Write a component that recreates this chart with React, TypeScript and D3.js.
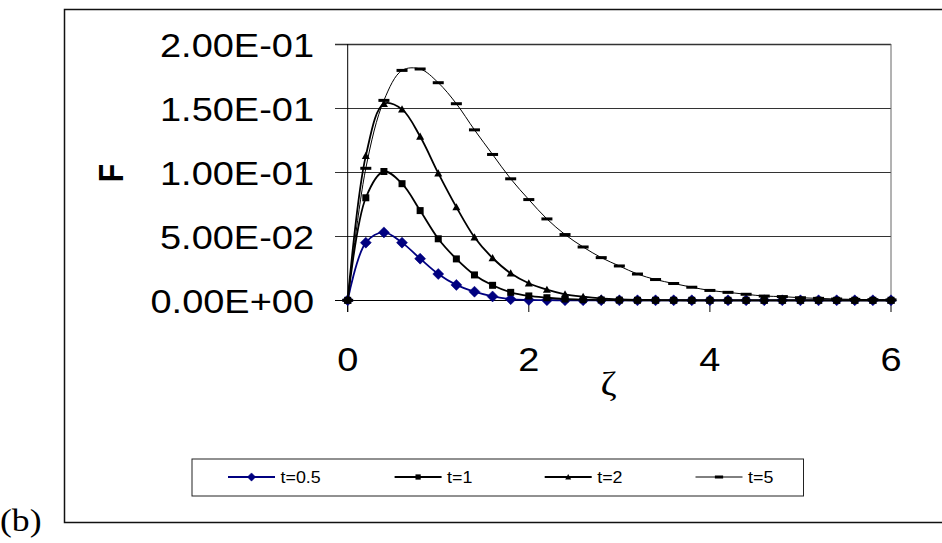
import React from 'react';
import * as d3 from 'd3';

// zeta values (x axis)
const zeta = [0, 0.2, 0.4, 0.6, 0.8, 1.0, 1.2, 1.4, 1.6, 1.8, 2.0, 2.2, 2.4, 2.6, 2.8, 3.0,
  3.2, 3.4, 3.6, 3.8, 4.0, 4.2, 4.4, 4.6, 4.8, 5.0, 5.2, 5.4, 5.6, 5.8, 6.0];

// F values, one array per time
const fT05 = [0, 0.045, 0.053, 0.045, 0.0325, 0.0205, 0.012, 0.0067, 0.003, 0.0009, 0.0003, 0.0001, 0, 0, 0, 0,
  0, 0, 0, 0, 0, 0, 0, 0, 0, 0, 0, 0, 0, 0, 0];
const fT1 = [0, 0.08, 0.1005, 0.091, 0.07, 0.048, 0.0323, 0.0198, 0.0117, 0.0062, 0.0034, 0.002, 0.001, 0.0005, 0.0002, 0.0001,
  0, 0, 0, 0, 0, 0, 0, 0, 0, 0, 0, 0, 0, 0, 0];
const fT2 = [0, 0.1127, 0.1534, 0.149, 0.1278, 0.0992, 0.0727, 0.0492, 0.033, 0.0211, 0.0133, 0.0083, 0.0047, 0.0028, 0.0015, 0.0008,
  0.0004, 0.0002, 0.0001, 0, 0, 0, 0, 0, 0, 0, 0, 0, 0, 0, 0];
const fT5 = [0, 0.103, 0.156, 0.1794, 0.1805, 0.1698, 0.1534, 0.133, 0.1138, 0.0948, 0.0786, 0.0635, 0.0513, 0.0416, 0.0333, 0.0268,
  0.0205, 0.0162, 0.0131, 0.0102, 0.0077, 0.0062, 0.0047, 0.0033, 0.0029, 0.002, 0.0015, 0.001, 0.0007, 0.0005, 0.0003];

const seriesNames = ['t=0.5', 't=1', 't=2', 't=5'];
const yTicks = [0, 0.05, 0.1, 0.15, 0.2];
const yTickLabels = ['0.00E+00', '5.00E-02', '1.00E-01', '1.50E-01', '2.00E-01'];
const xTicks = [0, 2, 4, 6];

const W = 942;
const H = 543;
const SX = 1.15; // text in the picture is a bit wide
const font = '"Liberation Sans", Arial, sans-serif';

type Marker = 'diamond' | 'square' | 'triangle' | 'dash';

const series = [
  { name: seriesNames[0], values: fT05, color: '#000080', marker: 'diamond' as Marker, width: 1.8 },
  { name: seriesNames[1], values: fT1, color: '#000', marker: 'square' as Marker, width: 1.8 },
  { name: seriesNames[2], values: fT2, color: '#000', marker: 'triangle' as Marker, width: 1.8 },
  { name: seriesNames[3], values: fT5, color: '#000', marker: 'dash' as Marker, width: 1 },
];

const MarkerShape = ({ type, x, y, color, k = 1 }: { type: Marker; x: number; y: number; color: string; k?: number }) => {
  if (type === 'diamond') {
    const r = 5.5 * k;
    return <path d={`M${x},${y - r}L${x + r},${y}L${x},${y + r}L${x - r},${y}Z`} fill={color} stroke={color} strokeWidth={0.5} />;
  }
  if (type === 'square') {
    const s = 3.5 * k;
    return <rect x={x - s} y={y - s} width={2 * s} height={2 * s} fill={color} />;
  }
  if (type === 'triangle') {
    const s = 4 * k;
    return <path d={`M${x},${y - s}L${x + s},${y + s * 0.8}L${x - s},${y + s * 0.8}Z`} fill={color} />;
  }
  return <rect x={x - 5.5 * k} y={y - 1.5} width={11 * k} height={3} fill={color} />;
};

const App = () => {
  const x = d3.scaleLinear().domain([0, 6]).range([347.7, 891]);
  const y = d3.scaleLinear().domain([0, 0.2]).range([300.3, 44]);

  const line = d3
    .line<number>()
    .x((d, i) => x(zeta[i]))
    .y((d) => y(d))
    .curve(d3.curveCatmullRom.alpha(0.5));

  const legendX = [228, 394.6, 544.7, 695.5];
  const legendY = 477;

  return (
    <svg width={W} height={H} style={{ position: 'absolute', left: 0, top: 0, background: '#fff' }}>
      {/* outer frame */}
      <path d={`M${W + 5},9.5H64.5V522.5H${W + 5}`} fill='none' stroke='#111' strokeWidth={1.5} />

      {/* gridlines and y ticks */}
      {yTicks.map((t, i) => (
        <line key={'g' + i} x1={335} x2={891} y1={Math.round(y(t)) + 0.5} y2={Math.round(y(t)) + 0.5}
          stroke={i === 0 ? '#000' : '#333'} strokeWidth={i === 4 ? 1.6 : 1} />
      ))}
      {/* right border of plot area */}
      <line x1={891} x2={891} y1={44} y2={300} stroke='#666' strokeWidth={1} />
      {/* y axis */}
      <line x1={347.7} x2={347.7} y1={44} y2={312} stroke='#000' strokeWidth={1} />
      {/* x ticks */}
      {xTicks.map((t) => (
        <line key={'xt' + t} x1={x(t)} x2={x(t)} y1={300} y2={312} stroke='#000' strokeWidth={1} />
      ))}

      {/* y tick labels */}
      {yTicks.map((t, i) => (
        <g key={'yl' + i} transform={`translate(314,${y(t) + 13}) scale(${SX},1)`}>
          <text textAnchor='end' fontFamily={font} fontSize={33}>{yTickLabels[i]}</text>
        </g>
      ))}
      {/* x tick labels */}
      {xTicks.map((t) => (
        <g key={'xl' + t} transform={`translate(${x(t)},370.5) scale(${SX},1)`}>
          <text textAnchor='middle' fontFamily={font} fontSize={33}>{t}</text>
        </g>
      ))}

      {/* axis titles */}
      <g transform={`translate(608.5,395) scale(${SX},1)`}>
        <text textAnchor='middle' fontFamily='"Liberation Serif", serif' fontSize={34}>ζ</text>
      </g>
      <g transform={`translate(111,173) scale(${SX},1) rotate(-90)`}>
        <text textAnchor='middle' dominantBaseline='central' fontFamily={font} fontWeight='bold' fontSize={30}>F</text>
      </g>

      {/* series */}
      {series.map((s) => (
        <g key={s.name}>
          <path d={line(s.values) ?? ''} fill='none' stroke={s.color} strokeWidth={s.width} />
          {s.values.map((v, i) => (
            <MarkerShape key={i} type={s.marker} x={x(zeta[i])} y={y(v)} color={s.color} />
          ))}
        </g>
      ))}

      {/* legend */}
      <rect x={192} y={459} width={611.5} height={37} fill='#fff' stroke='#222' strokeWidth={1} />
      {series.map((s, i) => (
        <g key={'lg' + i}>
          <line x1={legendX[i]} x2={legendX[i] + 47} y1={legendY} y2={legendY} stroke={s.color} strokeWidth={s.width} />
          <MarkerShape type={s.marker} x={legendX[i] + 23.5} y={legendY} color={s.color} k={0.75} />
          <g transform={`translate(${legendX[i] + 52.5},483) scale(1.05,1)`}>
            <text fontFamily={font} fontSize={17}>{s.name}</text>
          </g>
        </g>
      ))}

      {/* panel label */}
      <g transform={`translate(0,531) scale(${SX},1)`}>
        <text fontFamily='"Liberation Serif", "Times New Roman", serif' fontSize={31}>(b)</text>
      </g>
    </svg>
  );
};

export default App;
